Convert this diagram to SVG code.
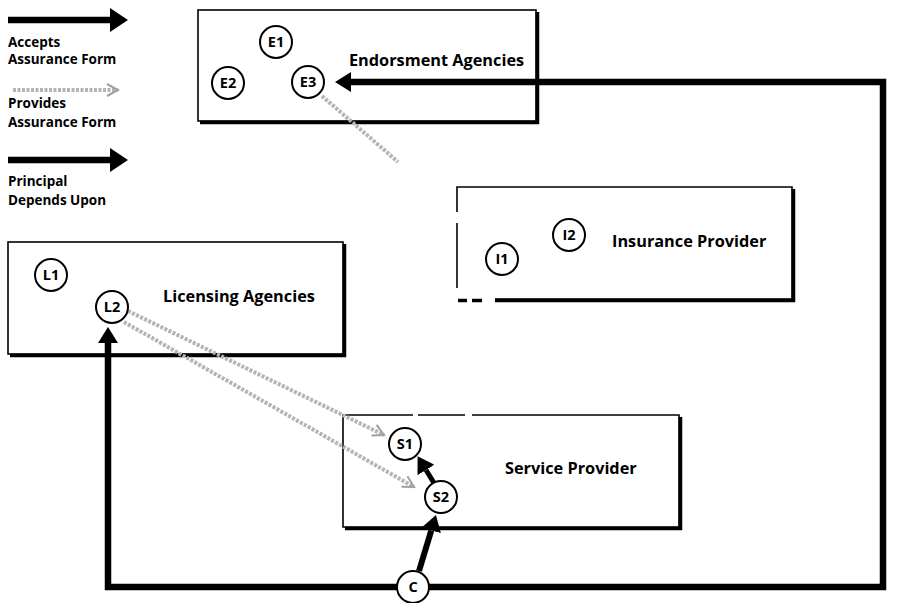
<svg xmlns="http://www.w3.org/2000/svg" width="897" height="603" viewBox="0 0 897 603">
<style>
.box{fill:#fff;stroke:#000;stroke-width:1.6}
.edge{fill:none;stroke:#000;stroke-width:1.6}
.shadow{fill:none;stroke:#000;stroke-width:3.5}
.node{fill:#fff;stroke:#000;stroke-width:2}
.nl{font-family:"Open Sans","Liberation Sans",sans-serif;font-weight:bold;font-size:14.5px;text-anchor:middle;fill:#000}
.title{font-family:"Open Sans","Liberation Sans",sans-serif;font-weight:bold;font-size:16.3px;fill:#000}
.leg{font-family:"Open Sans","Liberation Sans",sans-serif;font-weight:bold;font-size:13.5px;fill:#000}
.thick{fill:none;stroke:#000;stroke-width:6.5}
.gray{fill:none;stroke:#b4b4b4;stroke-width:4;stroke-dasharray:3 1.5}
</style>
<defs>
<marker id="ah" markerUnits="userSpaceOnUse" viewBox="0 0 16 20" refX="0" refY="10" markerWidth="16" markerHeight="20" orient="auto">
<path d="M0,0 L16,10 L0,20 z" fill="#000"/>
</marker>
<marker id="ahL" markerUnits="userSpaceOnUse" viewBox="0 0 18 24" refX="0" refY="12" markerWidth="18" markerHeight="24" orient="auto">
<path d="M0,0 L18,12 L0,24 z" fill="#000"/>
</marker>
<marker id="gh" markerUnits="userSpaceOnUse" viewBox="0 0 14 14" refX="12" refY="7" markerWidth="14" markerHeight="14" orient="auto">
<path d="M1,1 L12,7 L1,13" fill="none" stroke="#a0a0a0" stroke-width="2"/>
</marker>
</defs>

<g id="legend">
<path class="thick" d="M8 20 H110" marker-end="url(#ahL)"/>
<text class="leg" x="8" y="47">Accepts</text>
<text class="leg" x="8" y="64">Assurance Form</text>
<path class="gray" d="M13 90 H118" marker-end="url(#gh)"/>
<text class="leg" x="8" y="108">Provides</text>
<text class="leg" x="8" y="127">Assurance Form</text>
<path class="thick" d="M8 160 H110" marker-end="url(#ahL)"/>
<text class="leg" x="8" y="186">Principal</text>
<text class="leg" x="8" y="205">Depends Upon</text>
</g>

<g id="endorsement-agencies">
<rect class="box" x="198" y="10" width="338" height="111"/>
<path class="shadow" d="M200 122.5 H537.5 V12"/>
<text class="title" x="349" y="66">Endorsment Agencies</text>
</g>

<g id="insurance-provider">
<rect x="457" y="187" width="335" height="112" fill="#fff"/>
<path class="edge" d="M457 212 V187 H792 V299 H495"/>
<path class="edge" d="M457 223 V288"/>
<path class="shadow" d="M458 300.5 H467 M472 300.5 H482 M495 300.5 H793.5 V189"/>
<text class="title" x="612" y="247">Insurance Provider</text>
</g>

<g id="licensing-agencies">
<rect class="box" x="8" y="242" width="335" height="112"/>
<path class="shadow" d="M10 355.5 H344.5 V244"/>
<text class="title" x="163" y="302">Licensing Agencies</text>
</g>

<g id="service-provider">
<rect x="343" y="415" width="336" height="112" fill="#fff"/>
<path class="edge" d="M413 415 H343 V527 H679 V415 H472 M418 415 H465"/>
<path class="shadow" d="M345 528.5 H680.5 V417"/>
<text class="title" x="505" y="474">Service Provider</text>
</g>

<g id="connectors">
<path class="gray" d="M322 96 L398 162"/>
<path class="gray" d="M128 311 L384 435" marker-end="url(#gh)"/>
<path class="gray" d="M124 322 L414 487" marker-end="url(#gh)"/>
<path class="thick" d="M413 587 H883 V82 H351" marker-end="url(#ah)"/>
<path class="thick" d="M413 587 H108 V343" marker-end="url(#ah)"/>
<path class="thick" style="stroke-width:6" d="M419 571 L431.3 530.3" marker-end="url(#ah)"/>
<path class="thick" style="stroke-width:5" d="M434 483 L426 470" marker-end="url(#ah)"/>
</g>

<g id="E1"><circle class="node" cx="276" cy="42" r="16"/><text class="nl" x="276" y="47">E1</text></g>
<g id="E2"><circle class="node" cx="228" cy="83" r="16"/><text class="nl" x="228" y="88">E2</text></g>
<g id="E3"><circle class="node" cx="308" cy="82" r="16"/><text class="nl" x="308" y="87">E3</text></g>
<g id="I1"><circle class="node" cx="502" cy="259" r="16"/><text class="nl" x="502" y="264">I1</text></g>
<g id="I2"><circle class="node" cx="569" cy="235" r="16"/><text class="nl" x="569" y="240">I2</text></g>
<g id="L1"><circle class="node" cx="51" cy="275" r="16"/><text class="nl" x="51" y="280">L1</text></g>
<g id="L2"><circle class="node" cx="112" cy="307" r="16"/><text class="nl" x="112" y="312">L2</text></g>
<g id="S1"><circle class="node" cx="405" cy="444" r="16"/><text class="nl" x="405" y="449">S1</text></g>
<g id="S2"><circle class="node" cx="441" cy="497" r="16"/><text class="nl" x="441" y="502">S2</text></g>
<g id="C"><circle class="node" cx="413" cy="587" r="16"/><text class="nl" x="413" y="592">C</text></g>
</svg>
